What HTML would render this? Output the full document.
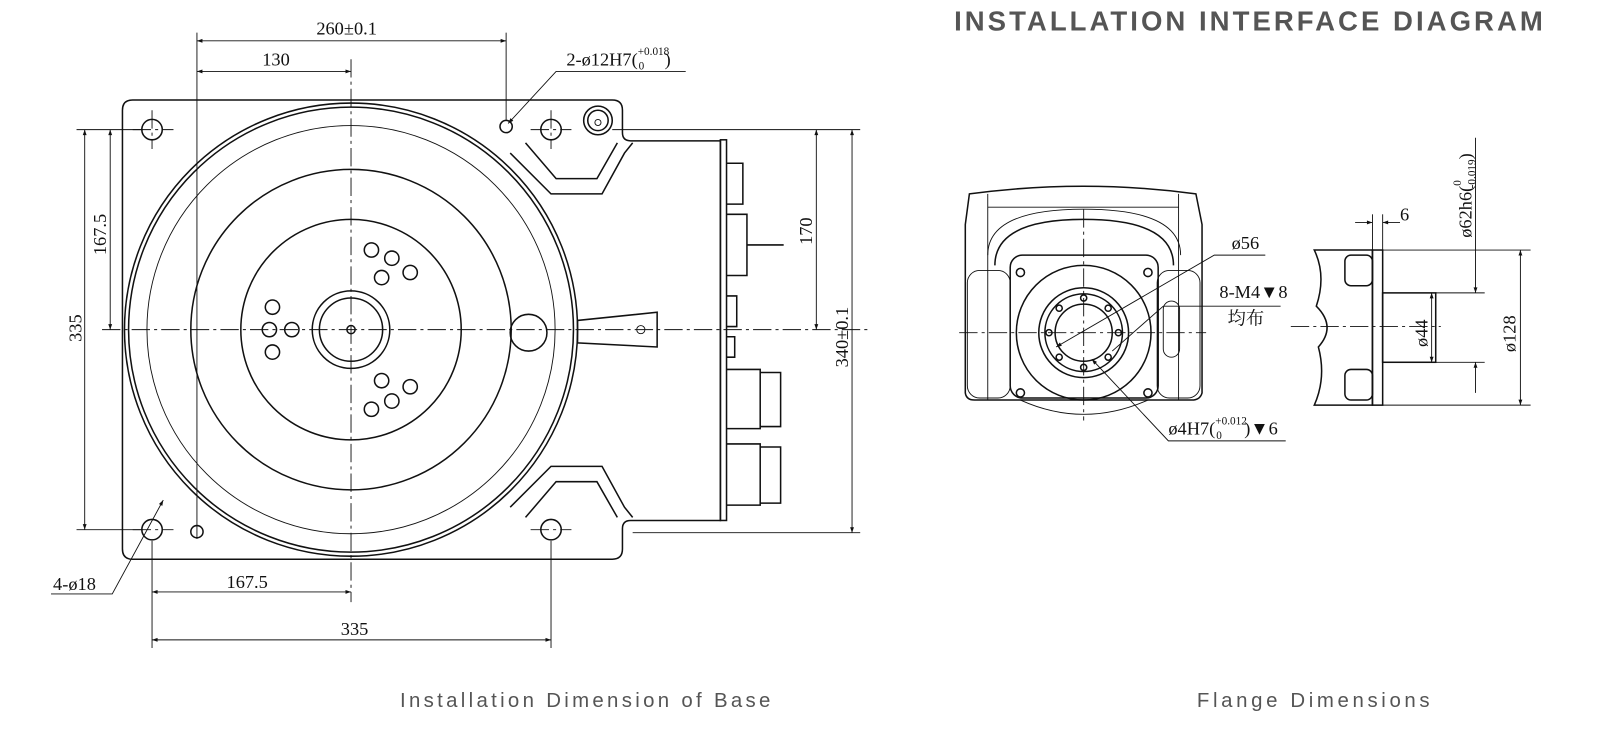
<!DOCTYPE html>
<html><head><meta charset="utf-8"><style>
html,body{margin:0;padding:0;background:#fff;}
svg{display:block}
text{font-family:"Liberation Serif","Noto Serif CJK SC",serif;fill:#111}
.l{stroke:#111;fill:none;stroke-width:1.5}
.t{stroke:#111;fill:none;stroke-width:0.9}
.c{stroke:#111;fill:none;stroke-width:0.9;stroke-dasharray:18 4 3 4}
</style></head><body>
<svg width="1600" height="746" viewBox="0 0 1568 731" preserveAspectRatio="none" xmlns="http://www.w3.org/2000/svg">
<defs><marker id="a" viewBox="0 0 10 10" refX="10" refY="5" markerWidth="9" markerHeight="6" orient="auto-start-reverse"><path d="M0,1.5 L10,5 L0,8.5z" fill="#111"/></marker></defs>
<rect width="1568" height="731" fill="#fff"/>
<text x="935" y="30" font-family="Liberation Sans,sans-serif" font-weight="bold" font-size="27" textLength="577" style="fill:#555;font-family:'Liberation Sans',sans-serif">INSTALLATION INTERFACE DIAGRAM</text>

<!-- BASE -->
<path class="l" d="M130,98 H600 Q610,98 610,108 V130 Q610,138 618,138 H706 V510 H618 Q610,510 610,518 V538 Q610,548 600,548 H130 Q120,548 120,538 V108 Q120,98 130,98Z"/>
<rect class="l" x="706" y="137" width="6" height="373"/>
<path class="l" d="M500,150 L540,190 H590 L612,150 L620,140"/>
<path class="l" d="M515,140 L545,175 H585 L605,140"/>
<path class="l" d="M500,497 L540,457 H590 L612,497 L620,507"/>
<path class="l" d="M515,507 L545,472 H585 L605,507"/>
<circle class="l" cx="344" cy="323" r="222" stroke-width="2.6"/>
<circle class="l" cx="344" cy="323" r="218"/>
<circle class="t" cx="344" cy="323" r="200"/>
<circle class="l" cx="344" cy="323" r="157"/>
<circle class="l" cx="344" cy="323" r="108"/>
<circle class="l" cx="344" cy="323" r="38"/>
<circle class="l" cx="344" cy="323" r="31"/>
<circle class="l" cx="344" cy="323" r="4"/>
<circle class="l" cx="518" cy="326" r="18"/>
<g class="l" stroke-width="1.8">
<circle cx="364" cy="245" r="7"/><circle cx="384" cy="253" r="7"/><circle cx="402" cy="267" r="7"/><circle cx="374" cy="272" r="7"/>
<circle cx="267" cy="301" r="7"/><circle cx="264" cy="323" r="7"/><circle cx="286" cy="323" r="7"/><circle cx="267" cy="345" r="7"/>
<circle cx="374" cy="373" r="7"/><circle cx="402" cy="379" r="7"/><circle cx="384" cy="393" r="7"/><circle cx="364" cy="401" r="7"/>
</g>
<g class="l" stroke-width="2">
<circle cx="149" cy="127" r="10"/><circle cx="540" cy="127" r="10"/><circle cx="149" cy="519" r="10"/><circle cx="540" cy="519" r="10"/>
</g>
<circle class="l" cx="496" cy="124" r="6"/><circle class="l" cx="193" cy="521" r="6"/>
<circle class="l" cx="586" cy="118" r="14"/><circle class="l" cx="586" cy="118" r="10"/><circle class="t" cx="586" cy="120" r="3"/>
<path class="l" d="M566,314 L644,306 V340 L566,336Z"/><circle class="t" cx="628" cy="323" r="4"/>
<path class="l" d="M712,160 H728 V200 H712 M712,210 H732 V270 H712 M732,240 H768 M712,290 H722 V320 H712 M712,330 H720 V350 H712"/>
<path class="l" d="M712,362 H745 V420 H712 M745,365 H765 V418 H745 M712,435 H745 V495 H712 M745,438 H765 V493 H745"/>
<line class="c" x1="100" y1="323" x2="850" y2="323"/>
<line class="c" x1="344" y1="58" x2="344" y2="590"/>
<line class="c" x1="130" y1="127" x2="170" y2="127"/><line class="c" x1="149" y1="108" x2="149" y2="146"/>
<line class="c" x1="520" y1="127" x2="560" y2="127"/><line class="c" x1="540" y1="108" x2="540" y2="146"/>
<line class="c" x1="130" y1="519" x2="170" y2="519"/><line class="c" x1="520" y1="519" x2="560" y2="519"/>
<g class="t">
<line x1="193" y1="32" x2="193" y2="528"/><line x1="496" y1="32" x2="496" y2="118"/>
<line x1="193" y1="40" x2="496" y2="40" marker-start="url(#a)" marker-end="url(#a)"/>
<line x1="193" y1="70" x2="344" y2="70" marker-start="url(#a)" marker-end="url(#a)"/>
<line x1="75" y1="127" x2="140" y2="127"/><line x1="75" y1="519" x2="140" y2="519"/>
<line x1="108" y1="127" x2="108" y2="323" marker-start="url(#a)" marker-end="url(#a)"/>
<line x1="83" y1="127" x2="83" y2="519" marker-start="url(#a)" marker-end="url(#a)"/>
<line x1="600" y1="127" x2="843" y2="127"/><line x1="620" y1="522" x2="843" y2="522"/>
<line x1="800" y1="127" x2="800" y2="323" marker-start="url(#a)" marker-end="url(#a)"/>
<line x1="835" y1="127" x2="835" y2="522" marker-start="url(#a)" marker-end="url(#a)"/>
<line x1="149" y1="530" x2="149" y2="635"/><line x1="540" y1="530" x2="540" y2="635"/>
<line x1="149" y1="580" x2="344" y2="580" marker-start="url(#a)" marker-end="url(#a)"/>
<line x1="149" y1="627" x2="540" y2="627" marker-start="url(#a)" marker-end="url(#a)"/>
<polyline points="160,490 110,582 50,582" marker-start="url(#a)"/>
<polyline points="498,121 545,70 672,70" marker-start="url(#a)"/>
</g>
<g font-size="18">
<text x="310" y="34">260±0.1</text>
<text x="257" y="64">130</text>
<text x="222" y="576">167.5</text>
<text x="334" y="622">335</text>
<text x="52" y="578">4-ø18</text>
<text x="555" y="64">2-ø12H7(<tspan font-size="11" dy="-10">+0.018</tspan><tspan font-size="11" dx="-30" dy="14">0</tspan><tspan dx="20" dy="-4">)</tspan></text>
<text transform="translate(104,250) rotate(-90)">167.5</text>
<text transform="translate(80,335) rotate(-90)">335</text>
<text transform="translate(796,240) rotate(-90)">170</text>
<text transform="translate(831,360) rotate(-90)">340±0.1</text>
</g>

<!-- FLANGE FRONT -->
<path class="l" d="M950,190 Q1062,175 1172,190 L1178,220 V385 Q1176,392 1168,392 H955 Q947,392 946,385 V220Z"/>
<line class="t" x1="968" y1="190" x2="968" y2="392"/><line class="t" x1="1155" y1="190" x2="1155" y2="392"/>
<line class="t" x1="968" y1="203" x2="1155" y2="203"/>
<path class="l" d="M975,260 Q975,215 1062,215 Q1150,215 1150,260"/>
<path class="t" d="M968,250 Q968,205 1062,205 Q1157,205 1157,250"/>
<rect class="t" x="948" y="265" width="42" height="125" rx="12"/><rect class="t" x="1134" y="265" width="42" height="125" rx="12"/>
<rect class="t" x="1140" y="295" width="16" height="55" rx="8"/>
<rect class="l" x="990" y="250" width="145" height="140" rx="12"/>
<circle class="l" cx="1062" cy="326" r="66"/>
<circle class="l" cx="1062" cy="326" r="44" stroke-width="2.4"/>
<circle class="l" cx="1062" cy="326" r="38"/>
<circle class="l" cx="1062" cy="326" r="28"/>
<g class="l" stroke-width="1.8"><circle cx="1000" cy="267" r="4"/><circle cx="1125" cy="267" r="4"/><circle cx="1000" cy="385" r="4"/><circle cx="1125" cy="385" r="4"/>
<circle cx="1062" cy="292" r="3"/><circle cx="1086" cy="302" r="3"/><circle cx="1096" cy="326" r="3"/><circle cx="1086" cy="350" r="3"/><circle cx="1062" cy="360" r="3"/><circle cx="1038" cy="350" r="3"/><circle cx="1028" cy="326" r="3"/><circle cx="1038" cy="302" r="3"/></g>
<path class="t" d="M1000,392 Q1062,420 1125,392"/>
<line class="c" x1="940" y1="326" x2="1182" y2="326"/>
<line class="c" x1="1062" y1="205" x2="1062" y2="412"/>
<g class="t">
<polyline points="1035,340 1190,250 1240,250" marker-start="url(#a)"/>
<polyline points="1090,344 1140,300 1255,300"/>
<polyline points="1070,352 1145,432 1260,432" marker-start="url(#a)"/>
</g>
<g font-size="18">
<text x="1207" y="244">ø56</text>
<text x="1195" y="292">8-M4▼8</text>
<text x="1203" y="318" font-family="Noto Serif CJK SC,serif">均布</text>
<text x="1145" y="426">ø4H7(<tspan font-size="11" dy="-10">+0.012</tspan><tspan font-size="11" dx="-30" dy="14">0</tspan><tspan dx="22" dy="-4">)▼6</tspan></text>
</g>

<!-- FLANGE SIDE -->
<path class="l" d="M1288,245 H1345 V397 H1288 Q1300,370 1292,340 Q1310,320 1290,300 Q1300,270 1288,245Z"/>
<rect class="l" x="1318" y="250" width="27" height="30" rx="6"/><rect class="l" x="1318" y="362" width="27" height="30" rx="6"/>
<rect class="l" x="1345" y="245" width="10" height="152"/>
<rect class="l" x="1355" y="287" width="52" height="68"/>
<line class="c" x1="1265" y1="320" x2="1412" y2="320"/>
<g class="t">
<line x1="1345" y1="210" x2="1345" y2="245"/><line x1="1355" y1="210" x2="1355" y2="245"/>
<line x1="1328" y1="218" x2="1345" y2="218" marker-end="url(#a)"/><line x1="1372" y1="218" x2="1355" y2="218" marker-end="url(#a)"/>
<line x1="1355" y1="245" x2="1500" y2="245"/><line x1="1355" y1="397" x2="1500" y2="397"/>
<line x1="1490" y1="245" x2="1490" y2="397" marker-start="url(#a)" marker-end="url(#a)"/>
<line x1="1407" y1="287" x2="1455" y2="287"/><line x1="1407" y1="355" x2="1455" y2="355"/>
<line x1="1403" y1="287" x2="1403" y2="355" marker-start="url(#a)" marker-end="url(#a)"/>
<line x1="1446" y1="135" x2="1446" y2="287" marker-end="url(#a)"/>
<line x1="1446" y1="385" x2="1446" y2="355" marker-end="url(#a)"/>
</g>
<g font-size="18">
<text x="1372" y="216">6</text>
<text transform="translate(1485,345) rotate(-90)">ø128</text>
<text transform="translate(1399,340) rotate(-90)">ø44</text>
<text transform="translate(1442,233) rotate(-90)">ø62h6(<tspan font-size="11" dy="-10">0</tspan><tspan font-size="11" dx="-8" dy="14">-0.019</tspan><tspan dy="-4">)</tspan></text>
</g>

<text x="392" y="693" font-size="20" textLength="363" style="fill:#555;font-family:'Liberation Sans',sans-serif">Installation Dimension of Base</text>
<text x="1173" y="693" font-size="20" textLength="228" style="fill:#555;font-family:'Liberation Sans',sans-serif">Flange Dimensions</text>
</svg>
</body></html>
